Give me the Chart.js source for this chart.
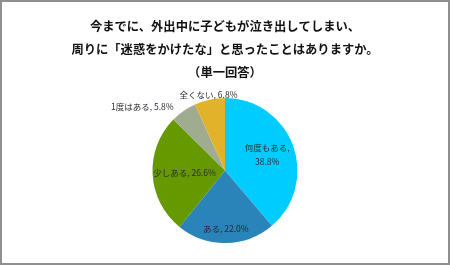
<!DOCTYPE html>
<html>
<head>
<meta charset="utf-8">
<script src="https://cdn.jsdelivr.net/npm/chart.js@4/dist/chart.umd.min.js"></script>
<style>
  html, body { margin: 0; padding: 0; background: #fff; }
  #wrap { position: relative; width: 450px; height: 265px; }
  #frame { position: absolute; left: 0; top: 0; width: 450px; height: 265px; box-sizing: border-box;
           border: 2px solid #8f8f8f; pointer-events: none; }
  canvas { display: block; }
</style>
</head>
<body>
<div id="wrap">
  <canvas id="c" width="450" height="265"></canvas>
  <div id="frame"></div>
</div>
<script>
const titleLines = [
  '今までに、外出中に子どもが泣き出してしまい、',
  '周りに「迷惑をかけたな」と思ったことはありますか。',
  '（単一回答）'
];
const categories = ['何度もある', 'ある', '少しある', '1度はある', '全くない'];
const values = [38.8, 22.0, 26.6, 5.8, 6.8];
const colors = ['#00CCFF', '#2A83B9', '#669900', '#A0AC90', '#E2B22A'];

// label placement (styling): radius factor, alignment, nudge, line break
const labelStyle = [
  { f: 0.62, align: 'center', dx: 0, split: true },
  { f: 0.81, align: 'center', dx: 0, split: false },
  { f: 0.56, align: 'center', dx: 0, split: false },
  { f: 1.07, align: 'right', dx: -7, split: false },
  { f: 1.07, align: 'center', dx: 0, split: false }
];

const labelPlugin = {
  id: 'sliceLabels',
  afterDatasetsDraw(chart) {
    const ctx = chart.ctx;
    const meta = chart.getDatasetMeta(0);
    ctx.save();
    ctx.font = '8.5px "Noto Sans CJK JP", sans-serif';
    ctx.fillStyle = '#2a2a35';
    ctx.textBaseline = 'middle';
    meta.data.forEach((arc, i) => {
      const p = arc.getProps(['x', 'y', 'startAngle', 'endAngle', 'outerRadius'], true);
      const mid = (p.startAngle + p.endAngle) / 2;
      const st = labelStyle[i];
      const r = p.outerRadius * st.f;
      const x = p.x + Math.cos(mid) * r + st.dx;
      const y = p.y + Math.sin(mid) * r;
      const txt = categories[i] + ', ' + values[i].toFixed(1) + '%';
      ctx.textAlign = st.align;
      if (st.split) {
        ctx.fillText(categories[i] + ',', x, y - 7);
        ctx.fillText(values[i].toFixed(1) + '%', x, y + 7);
      } else {
        ctx.fillText(txt, x, y);
      }
    });
    ctx.restore();
  }
};

new Chart(document.getElementById('c'), {
  type: 'pie',
  data: {
    labels: categories,
    datasets: [{
      data: values,
      backgroundColor: colors,
      borderWidth: 0
    }]
  },
  options: {
    responsive: false,
    animation: false,
    layout: { padding: { top: 0, bottom: 22, left: 0, right: 0 } },
    plugins: {
      legend: { display: false },
      tooltip: { enabled: false },
      title: {
        display: true,
        text: titleLines,
        color: '#111111',
        font: { family: '"Noto Sans CJK JP", sans-serif', size: 12.3, weight: 'bold', lineHeight: 23 / 12.3 },
        padding: { top: 15, bottom: 14 }
      }
    }
  },
  plugins: [labelPlugin]
});
</script>
</body>
</html>
